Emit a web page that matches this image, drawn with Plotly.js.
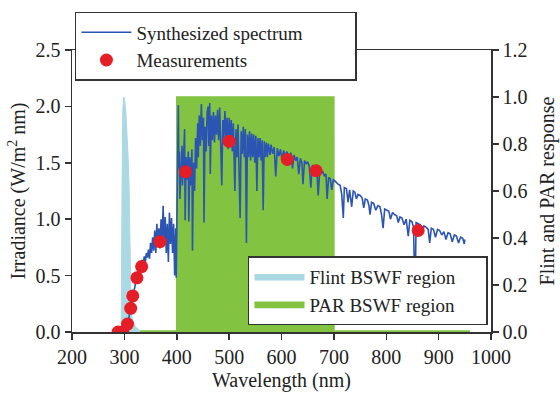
<!DOCTYPE html>
<html>
<head>
<meta charset="utf-8">
<script src="https://cdn.plot.ly/plotly-3.0.1.min.js"></script>
<style>html,body{margin:0;padding:0;background:#fff;}#chart{width:560px;height:394px;}</style>
</head>
<body>
<div id="chart"></div>
<script>
// Synthesized spectrum (nm, W/m^2 nm)
const specX = [290,294,298,300,302,304,306,308,310,312,314,316,318,320,322,324,326,328,330,332,334,336,338,340,342,344,346,348,350,352,354,356,358,360,362,364,366,368,370,372,374,376,378,380,382,384,386,388,390,392,394,396,398,399,
400,401,403,404,405,406,408,410,411,413,415,416,418,420,422,423,425,427,429,430,432,434,436,438,440,441,443,445,447,449,451,452,454,456,458,460,461,463,464,466,468,470,472,474,476,478,480,482,484,486,488,490,492,494,496,498,500,
502,504,506,508,510,511,513,515,517,519,521,523,525,527,529,531,533,535,537,539,541,543,545,547,549,551,553,555,557,559,561,563,565,567,569,571,573,575,578,580,583,586,589,592,595,598,601,604,607,610,
612,615,618,621,624,627,630,633,636,639,641,644,647,650,653,656,659,662,665,668,670,673,676,679,682,685,687,690,693,696,699,702,
704,708,712,715,718,720,724,727,730,734,737,740,743,746,750,754,757,760,764,767,769,772,776,780,784,788,791,794,797,801,805,808,812,816,820,823,826,830,834,838,842,845,849,852,855,857,861,865,868,872,876,880,883,886,890,894,898,902,906,910,914,918,922,926,930,934,938,942,946,949,950];
const specY = [0,0,0.005,0.01,0.02,0.04,0.07,0.11,0.16,0.21,0.27,0.32,0.37,0.42,0.45,0.48,0.51,0.53,0.56,0.60,0.64,0.60,0.67,0.62,0.70,0.66,0.73,0.65,0.79,0.70,0.84,0.72,0.90,0.70,0.96,0.78,0.92,0.74,1.00,0.80,1.12,0.78,1.02,0.70,0.96,0.62,1.06,0.78,1.01,0.70,0.96,0.50,0.92,0.48,
0.85,1.55,2.01,1.45,1.60,1.18,1.50,1.65,1.30,1.58,1.80,0.99,1.55,1.35,1.60,0.98,1.55,1.30,1.62,0.72,1.50,1.25,1.72,1.45,1.85,1.55,1.92,1.65,2.02,1.70,1.90,0.97,1.82,1.60,1.95,2.00,1.65,2.03,1.40,1.92,1.70,1.95,1.68,1.92,1.75,1.97,1.70,1.99,1.65,1.30,1.88,1.72,1.96,1.70,1.90,1.62,1.90,
1.72,1.88,1.60,1.85,1.50,1.25,1.80,1.55,1.84,1.45,1.01,1.78,1.58,1.82,1.55,1.80,0.79,1.75,1.55,1.78,1.52,1.76,1.55,1.75,1.50,1.74,1.25,1.72,1.55,1.72,1.52,1.70,1.08,1.69,1.55,1.68,1.55,1.67,1.57,1.66,1.58,1.64,1.38,1.63,1.56,1.62,1.52,1.61,1.55,1.60,
1.58,1.50,1.59,1.45,1.57,1.52,1.55,1.40,1.54,1.50,1.31,1.52,1.49,1.51,1.47,1.28,1.48,1.44,1.46,1.40,1.21,1.43,1.41,1.42,1.38,1.40,1.18,1.37,1.36,1.26,1.35,1.34,
1.33,1.31,1.30,1.22,1.01,1.28,1.27,1.15,1.26,1.11,1.25,1.24,1.18,1.22,1.21,1.19,1.10,1.18,1.17,1.12,1.04,1.15,1.14,1.08,1.12,1.11,1.04,0.92,1.09,1.08,1.07,1.00,1.06,1.04,1.03,0.97,1.02,1.01,0.95,1.00,0.85,0.99,0.98,0.93,0.30,0.97,0.96,0.95,0.88,0.94,0.93,0.91,0.79,0.92,0.91,0.84,0.91,0.90,0.86,0.89,0.82,0.88,0.87,0.80,0.86,0.85,0.79,0.84,0.83,0.78,0.82];

// Measurements
const measX = [288,297,306,312,316,324,333,368,417,500,611,666,861];
const measY = [0.0,0.0,0.07,0.21,0.32,0.48,0.58,0.80,1.42,1.69,1.53,1.43,0.90];

// Flint BSWF (relative response)
const flintX = [293,294,295.5,297,299,301,303,305,307,309,310.5,311.5,313,317,322,330];
const flintY = [0,0.05,0.6,0.95,1.0,0.98,0.93,0.85,0.75,0.62,0.45,0.2,0.08,0.04,0.02,0.005];

// PAR BSWF (relative response)
const parX = [330,399.9,400,700,700.1,960];
const parY = [0.004,0.004,1.0,1.0,0.004,0.004];

const blue = '#2b54b3', red = '#e41d26', lightBlue = '#aad9e4', green = '#82c341', axc = '#333';
const serif = 'Liberation Serif, serif';

const traces = [
  {x: flintX, y: flintY, type: 'scatter', mode: 'lines', fill: 'tozeroy', fillcolor: lightBlue,
   line: {color: lightBlue, width: 1}, name: 'Flint BSWF region', yaxis: 'y', legend: 'legend2'},
  {x: parX, y: parY, type: 'scatter', mode: 'lines', fill: 'tozeroy', fillcolor: green,
   line: {color: green, width: 1.5}, name: 'PAR BSWF region', yaxis: 'y', legend: 'legend2'},
  {x: specX, y: specY, type: 'scatter', mode: 'lines', line: {color: blue, width: 1.6},
   name: 'Synthesized spectrum', yaxis: 'y2', legend: 'legend'},
  {x: measX, y: measY, type: 'scatter', mode: 'markers', marker: {color: red, size: 13},
   name: 'Measurements', yaxis: 'y2', legend: 'legend'}
];

const tf = {family: serif, size: 20, color: '#222'};
const lf = {family: serif, size: 19, color: '#222'};
const axBase = {showline: true, linecolor: axc, linewidth: 1.5, ticks: 'outside', ticklen: 6, tickwidth: 1.5,
  tickcolor: axc, showgrid: false, zeroline: false, automargin: false, tickfont: tf};

const layout = {
  width: 560, height: 394,
  margin: {l: 72, r: 69, t: 42, b: 62},
  paper_bgcolor: '#fff', plot_bgcolor: '#fff',
  font: {family: serif, size: 20, color: '#222'},
  hovermode: false,
  xaxis: Object.assign({}, axBase, {range: [200, 1000], tick0: 200, dtick: 100, mirror: true,
    title: {text: 'Wavelength (nm)', standoff: 6, font: tf}}),
  yaxis: Object.assign({}, axBase, {range: [0, 1.2], dtick: 0.2, tickformat: '.1f', side: 'right',
    title: {text: 'Flint and PAR response', standoff: 13, font: tf}}),
  yaxis2: Object.assign({}, axBase, {range: [0, 2.5], dtick: 0.5, tickformat: '.1f', side: 'left',
    overlaying: 'y', anchor: 'x', title: {text: 'Irradiance (W/m<sup>2</sup> nm)', standoff: 4, font: tf}}),
  legend: {orientation: 'h', x: 0.007, y: 1.135, xanchor: 'left', yanchor: 'top', bgcolor: '#fff', bordercolor: axc,
    borderwidth: 1.5, font: lf, itemwidth: 50, tracegroupgap: 0, entrywidth: 214, entrywidthmode: 'pixels'},
  legend2: {orientation: 'h', x: 0.42, y: 0.024, xanchor: 'left', yanchor: 'bottom', bgcolor: '#fff', bordercolor: axc,
    borderwidth: 1.5, font: lf, itemwidth: 50, tracegroupgap: 0, entrywidth: 172, entrywidthmode: 'pixels'},
  showlegend: true
};

Plotly.newPlot('chart', traces, layout, {displayModeBar: false, staticPlot: true});
</script>
</body>
</html>
